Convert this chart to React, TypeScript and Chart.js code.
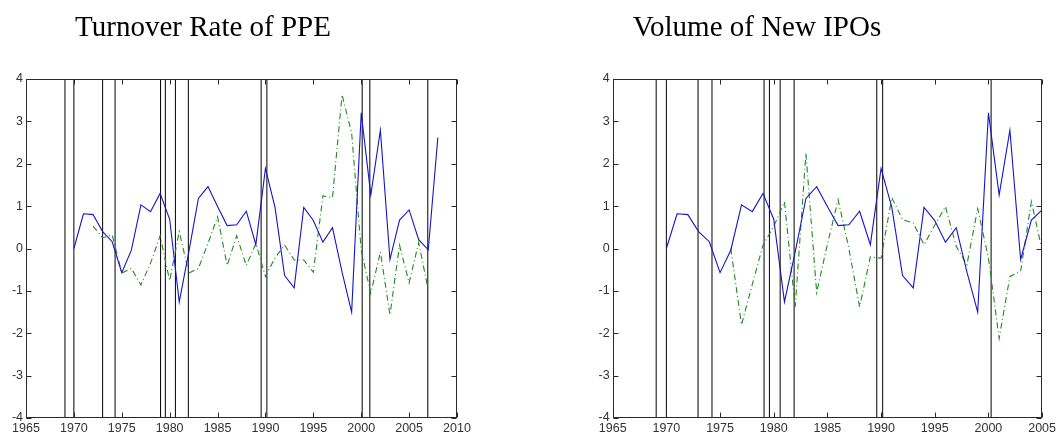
import React, { useEffect, useRef } from "react";
import { Chart, registerables } from "chart.js";

Chart.register(...registerables);

// ---- data ----
const pcYears = [
  1970, 1971, 1972, 1973, 1974, 1975, 1976, 1977, 1978, 1979,
  1980, 1981, 1982, 1983, 1984, 1985, 1986, 1987, 1988, 1989,
  1990, 1991, 1992, 1993, 1994, 1995, 1996, 1997, 1998, 1999,
  2000, 2001, 2002, 2003, 2004, 2005, 2006, 2007, 2008,
];
const pcValues = [
  0.0, 0.82, 0.8, 0.4, 0.16, -0.57, -0.04, 1.03, 0.87, 1.3,
  0.69, -1.26, -0.08, 1.18, 1.46, 0.99, 0.54, 0.56, 0.88, 0.09,
  1.89, 0.97, -0.64, -0.93, 0.97, 0.66, 0.15, 0.49, -0.56, -1.5,
  3.2, 1.26, 2.79, -0.26, 0.67, 0.91, 0.21, -0.03, 2.62,
];

const turnoverYears = [
  1972, 1973, 1974, 1975, 1976, 1977, 1978, 1979, 1980, 1981,
  1982, 1983, 1984, 1985, 1986, 1987, 1988, 1989, 1990, 1991,
  1992, 1993, 1994, 1995, 1996, 1997, 1998, 1999, 2000, 2001,
  2002, 2003, 2004, 2005, 2006, 2007,
];
const turnoverValues = [
  0.53, 0.25, 0.32, -0.58, -0.47, -0.86, -0.35, 0.3, -0.76, 0.4,
  -0.58, -0.47, 0.12, 0.75, -0.4, 0.3, -0.4, 0.12, -0.66, -0.22,
  0.08, -0.27, -0.27, -0.56, 1.24, 1.2, 3.63, 2.72, -0.05, -1.06,
  -0.08, -1.57, 0.08, -0.81, 0.14, -0.98,
];

const ipoYears = [
  1976, 1977, 1978, 1979, 1980, 1981, 1982, 1983, 1984, 1985,
  1986, 1987, 1988, 1989, 1990, 1991, 1992, 1993, 1994, 1995,
  1996, 1997, 1998, 1999, 2000, 2001, 2002, 2003, 2004, 2005,
];
const ipoValues = [
  0.0, -1.8, -0.85, 0.08, 0.52, 1.1, -1.38, 2.25, -1.04, 0.1,
  1.15, 0.0, -1.38, -0.2, -0.23, 1.2, 0.68, 0.6, 0.09, 0.55,
  0.99, 0.05, -0.38, 0.94, -0.22, -2.12, -0.66, -0.54, 1.11, -0.04,
];

const leftMarkers = [
  1969.07, 1970.0, 1973.0, 1974.3, 1979.05, 1979.55, 1980.6, 1981.95,
  1989.55, 1990.15, 2000.1, 2000.9, 2006.95,
];
const rightMarkers = [
  1969.05, 1970.0, 1972.95, 1974.25, 1979.1, 1979.6, 1980.6, 1981.9,
  1989.6, 1990.15, 2000.25,
];

const yTicks = [-4, -3, -2, -1, 0, 1, 2, 3, 4];
const leftTitle = "Turnover Rate of PPE";
const rightTitle = "Volume of New IPOs";

// ---- helpers ----
const toPoints = (xs: number[], ys: number[]) =>
  xs.map((x, i) => ({ x, y: ys[i] }));

const markerPoints = (ms: number[]) => {
  const pts: { x: number; y: number | null }[] = [];
  ms.forEach((m) => {
    pts.push({ x: m, y: yTicks[0] });
    pts.push({ x: m, y: yTicks[yTicks.length - 1] });
    pts.push({ x: m, y: null });
  });
  return pts;
};

const framePlugin = {
  id: "matlabFrame",
  afterDraw(chart: any) {
    const { ctx, chartArea: a, scales } = chart;
    const xs = scales.x;
    const ys = scales.y;
    const L = Math.round(a.left) + 0.5;
    const R = Math.round(a.right) - 0.5;
    const T = Math.round(a.top) + 0.5;
    const B = Math.round(a.bottom) - 0.5;
    const len = 5;
    ctx.save();
    ctx.strokeStyle = "#2a2a2a";
    ctx.lineWidth = 1;
    ctx.beginPath();
    xs.ticks.forEach((t: any) => {
      const p = Math.round(xs.getPixelForValue(t.value)) + 0.5;
      ctx.moveTo(p, B);
      ctx.lineTo(p, B - len);
      ctx.moveTo(p, T);
      ctx.lineTo(p, T + len);
    });
    ys.ticks.forEach((t: any) => {
      const p = Math.round(ys.getPixelForValue(t.value)) + 0.5;
      ctx.moveTo(L, p);
      ctx.lineTo(L + len, p);
      ctx.moveTo(R, p);
      ctx.lineTo(R - len, p);
    });
    ctx.stroke();
    ctx.strokeRect(L, T, R - L, B - T);
    ctx.restore();
  },
};

type PanelProps = {
  left: number;
  width: number;
  padLeft: number;
  padRight: number;
  xMax: number;
  greenX: number[];
  greenY: number[];
  markers: number[];
};

function Panel(p: PanelProps) {
  const ref = useRef<HTMLCanvasElement | null>(null);
  useEffect(() => {
    if (!ref.current) return;
    const chart = new Chart(ref.current, {
      type: "line",
      data: {
        datasets: [
          {
            data: markerPoints(p.markers) as any,
            borderColor: "#000000",
            borderWidth: 1,
            pointRadius: 0,
            spanGaps: false,
            tension: 0,
            order: 3,
          },
          {
            data: toPoints(p.greenX, p.greenY),
            borderColor: "#1f8a1f",
            borderWidth: 1.1,
            borderDash: [6, 3, 1, 3],
            pointRadius: 0,
            tension: 0,
            order: 2,
          },
          {
            data: toPoints(pcYears, pcValues),
            borderColor: "#1515c8",
            borderWidth: 1.1,
            pointRadius: 0,
            tension: 0,
            order: 1,
          },
        ],
      },
      options: {
        animation: false,
        responsive: false,
        maintainAspectRatio: false,
        events: [],
        layout: {
          padding: { left: p.padLeft, right: p.padRight, top: 79, bottom: 0 },
        },
        plugins: {
          legend: { display: false },
          tooltip: { enabled: false },
          title: { display: false },
        },
        scales: {
          x: {
            type: "linear",
            min: 1965,
            max: p.xMax,
            grid: { display: false, drawTicks: false },
            border: { display: false },
            ticks: {
              stepSize: 5,
              autoSkip: false,
              maxRotation: 0,
              padding: 3,
              color: "#333333",
              font: { family: "'Liberation Sans', Arial, sans-serif", size: 12.5 },
              callback: (v: any) => String(v),
            },
            afterFit: (s: any) => {
              s.height = 21;
            },
          },
          y: {
            type: "linear",
            min: yTicks[0],
            max: yTicks[yTicks.length - 1],
            grid: { display: false, drawTicks: false },
            border: { display: false },
            ticks: {
              stepSize: 1,
              padding: 3,
              color: "#333333",
              font: { family: "'Liberation Sans', Arial, sans-serif", size: 12.5 },
              callback: (v: any) => String(v),
            },
            afterFit: (s: any) => {
              s.width = 26;
            },
          },
        },
      },
      plugins: [framePlugin],
    });
    return () => chart.destroy();
  }, []);
  return (
    <canvas
      ref={ref}
      width={p.width}
      height={439}
      style={{
        position: "absolute",
        left: p.left,
        top: 0,
        width: p.width,
        height: 439,
      }}
    />
  );
}

const titleStyle = (center: number): React.CSSProperties => ({
  position: "absolute",
  top: 9,
  left: center - 250,
  width: 500,
  textAlign: "center",
  fontFamily: "'Liberation Serif', 'Times New Roman', serif",
  fontSize: 29,
  lineHeight: "34px",
  color: "#000",
  whiteSpace: "nowrap",
});

export default function App() {
  return (
    <div
      style={{
        position: "absolute",
        left: 0,
        top: 0,
        width: 1059,
        height: 439,
        background: "#ffffff",
        overflow: "hidden",
      }}
    >
      <Panel
        left={0}
        width={529}
        padLeft={0}
        padRight={72}
        xMax={2010}
        greenX={turnoverYears}
        greenY={turnoverValues}
        markers={leftMarkers}
      />
      <Panel
        left={529}
        width={530}
        padLeft={57.7}
        padRight={16.3}
        xMax={2005}
        greenX={ipoYears}
        greenY={ipoValues}
        markers={rightMarkers}
      />
      <div style={titleStyle(203)}>{leftTitle}</div>
      <div style={titleStyle(757)}>{rightTitle}</div>
    </div>
  );
}
